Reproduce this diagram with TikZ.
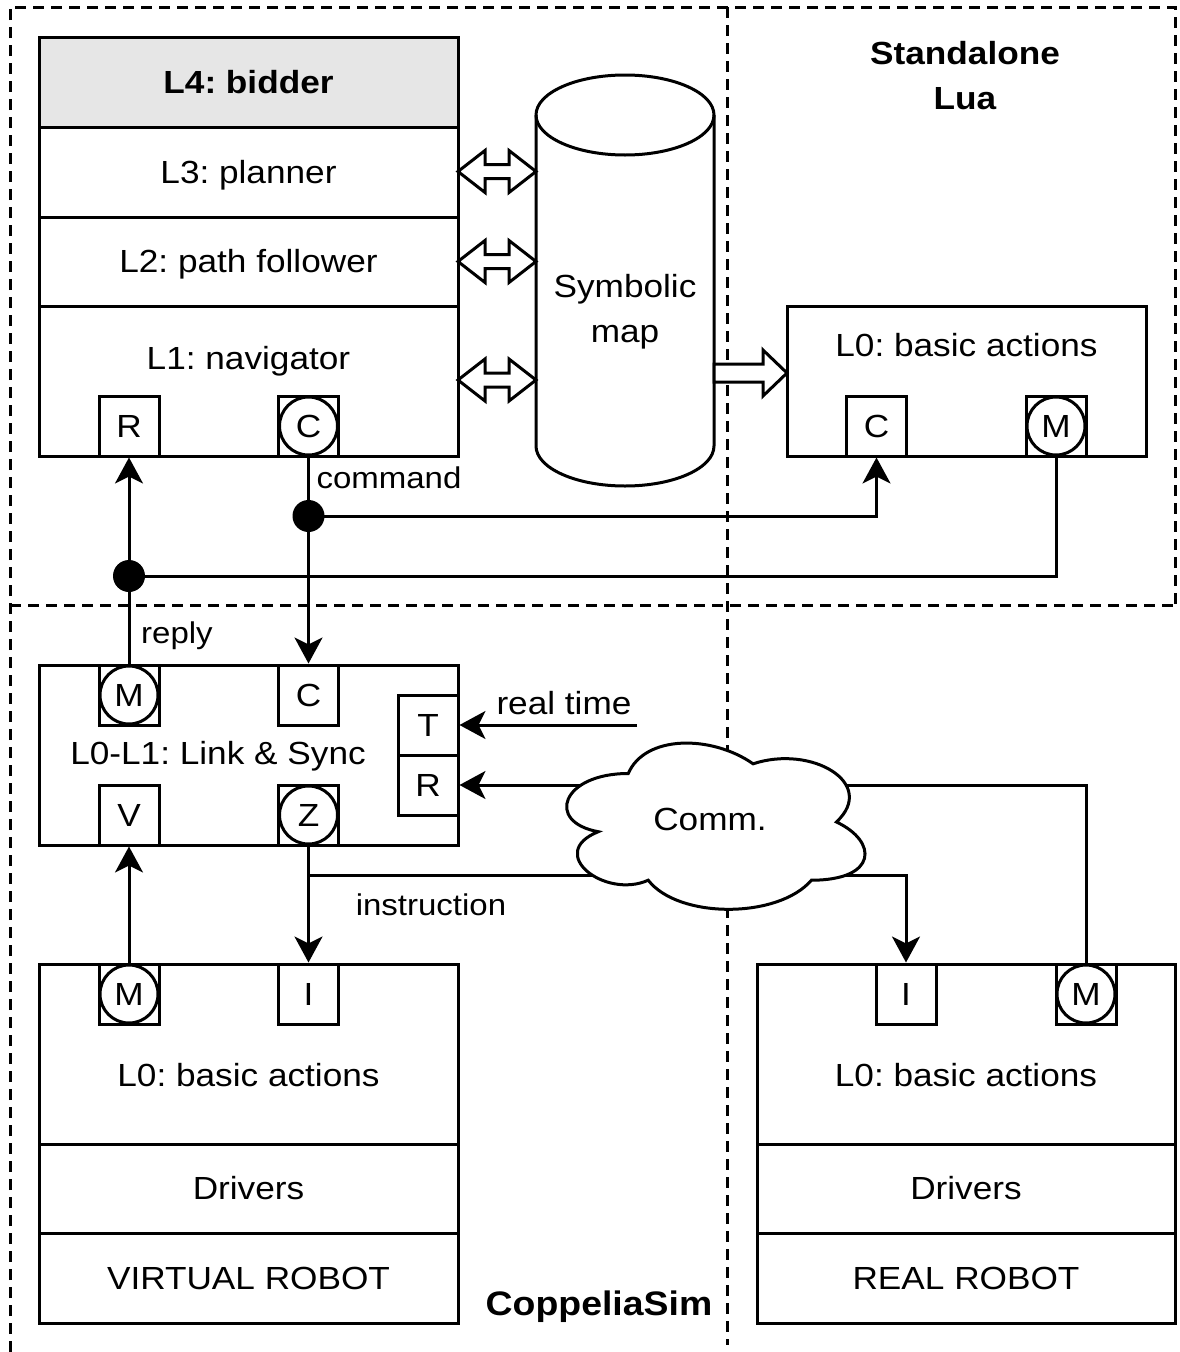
\documentclass[tikz,border=0pt]{standalone}
\usepackage{fontspec}
\setmainfont{Liberation Sans}[FakeStretch=1.1]
\usetikzlibrary{arrows.meta}
\newcommand\fmain{\fontsize{32}{40}\selectfont}
\newcommand\flabel{\fontsize{30}{36}\selectfont}
\newcommand\ftitle{\fontsize{32}{40}\selectfont\bfseries}
\newcommand\fbigtitle{\fontsize{34}{40}\selectfont\bfseries}
\definecolor{headgray}{HTML}{E6E6E6}
\frenchspacing

\begin{document}
\begin{tikzpicture}[x=1pt,y=-1pt,line width=3pt,
  txt/.style={font=\fmain, inner sep=0pt, text height=22.9pt, text depth=0pt},
  lbl/.style={font=\flabel, inner sep=0pt, text height=21.5pt, text depth=0pt},
  ttl/.style={font=\ftitle, inner sep=0pt, text height=22.9pt, text depth=0pt},
  layer/.style={draw, minimum width=419pt, inner sep=0pt, txt},
  port/.style={draw, fill=white, minimum size=60pt, inner sep=0pt, txt},
  ring/.style={draw, circle, fill=white, minimum size=58pt, inner sep=0pt, txt},
  junction/.style={circle, fill=black, minimum size=32pt, inner sep=0pt},
  arr/.style={-{Stealth[length=26pt,width=28pt,inset=7pt]}},
  frame/.style={dash pattern=on 11pt off 7pt, line width=3pt},
  blockarrow/.style={draw, fill=white, line join=miter}
]
\useasboundingbox (0,0) rectangle (1179,1352);

% ---------- dashed deployment frames ----------
\draw[frame] (10,1352) -- (10,7) -- (1175,7) -- (1175,605);
\draw[frame] (10,605) -- (1175,605);
\draw[frame] (727,7) -- (727,1345);

% ---------- upper stack L4..L1 ----------
\node[layer, fill=headgray, minimum height=90pt, font=\ftitle] (l4) at (248.5,82) {L4: bidder};
\node[layer, minimum height=90pt] (l3) at (248.5,172) {L3: planner};
\node[layer, minimum height=89pt] (l2) at (248.5,261.5) {L2: path follower};
\node[layer, minimum height=150pt] (l1) at (248.5,381) {};
\node[txt] (l1t) at (248.5,358) {L1: navigator};

% ---------- Link & Sync ----------
\node[layer, minimum height=180pt] (ls) at (248.5,755) {};
\node[txt] (lst) at (218,753.3) {L0-L1: Link \& Sync};

% ---------- standalone L0 ----------
\node[draw, minimum width=359pt, minimum height=150pt, inner sep=0pt] (sa) at (966.5,381) {};
\node[txt] (sat) at (966.5,345.5) {L0: basic actions};

% ---------- virtual robot stack ----------
\node[layer, minimum height=180pt] (v0) at (248.5,1054) {};
\node[txt] (v0t) at (248.5,1075.5) {L0: basic actions};
\node[layer, minimum height=89pt] (vd) at (248.5,1188.5) {Drivers};
\node[layer, minimum height=90pt] (vr) at (248.5,1278) {VIRTUAL ROBOT};

% ---------- real robot stack ----------
\node[layer, minimum width=418pt, minimum height=180pt] (r0) at (966,1054) {};
\node[txt] (r0t) at (966,1075.5) {L0: basic actions};
\node[layer, minimum width=418pt, minimum height=89pt] (rd) at (966,1188.5) {Drivers};
\node[layer, minimum width=418pt, minimum height=90pt] (rr) at (966,1278) {REAL ROBOT};

% ---------- connectors ----------
\coordinate (jCpos) at (308.5,516);
\coordinate (jRpos) at (129,576);
\coordinate (rt) at (637,725);
\coordinate (jI) at (308.5,875);

% ports (squares first, rings on top where needed)
\node[port] (nR) at (129,426) {R};
\node[port] (nC) at (308.5,426) {};
\node[ring] (nCc) at (nC) {C};
\node[port] (sC) at (876.5,426) {C};
\node[port] (sM) at (1056,426) {};
\node[ring] (sMc) at (sM) {M};
\node[port] (lM) at (129,695) {};
\node[ring] (lMc) at (lM) {M};
\node[port] (lC) at (308.5,695) {C};
\node[port] (lV) at (129,815) {V};
\node[port] (lZ) at (308.5,815) {};
\node[ring] (lZc) at (lZ) {Z};
\node[port] (lT) at (428,725) {T};
\node[port] (lR) at (428,785) {R};
\node[port] (vM) at (129,994) {};
\node[ring] (vMc) at (vM) {M};
\node[port] (vI) at (308.5,994) {I};
\node[port] (rI) at (906,994) {I};
\node[port] (rM) at (1086,994) {};
\node[ring] (rMc) at (rM) {M};

% command / reply buses
\draw[arr] (nC.south) -- (lC.north);
\draw[arr] (jCpos) -| (sC.south);
\draw[arr] (lM.north) -- (nR.south);
\draw (sM.south) |- (jRpos);
\node[junction] (jC) at (jCpos) {};
\node[junction] (jR) at (jRpos) {};

% timing and measurement into Link & Sync
\draw[arr] (rt) -- (lT.east);
\draw[arr] (rM.north) |- (lR.east);

% instruction bus
\draw[arr] (lZ.south) -- (vI.north);
\draw[arr] (jI) -| (rI.north);
\draw[arr] (vM.north) -- (lV.south);

% ---------- communication cloud ----------
\draw[fill=white] (628.25,773.5)
  .. controls (561.65,773.5) and (545,822) .. (598.28,831.7)
  .. controls (545,853.04) and (604.94,899.6) .. (648.23,880.2)
  .. controls (678.2,919) and (778.1,919) .. (811.4,880.2)
  .. controls (878,880.2) and (878,841.4) .. (836.4,822)
  .. controls (878,783.2) and (811.4,744.4) .. (753.1,763.8)
  .. controls (711.5,734.7) and (644.9,734.7) .. (628.25,773.5) -- cycle;
\node[txt] (comm) at (710,819) {Comm.};

% ---------- symbolic map cylinder ----------
\draw[fill=white] (536,115) -- (536,446)
  arc[start angle=180, end angle=360, x radius=89pt, y radius=40pt]
  -- (714,115)
  arc[start angle=0, end angle=180, x radius=89pt, y radius=40pt] -- cycle;
\draw (536,115) arc[start angle=180, end angle=360, x radius=89pt, y radius=40pt];
\node[txt] (sym1) at (625,286.5) {Symbolic};
\node[txt] (sym2) at (625,331.5) {map};

% ---------- block arrows between layers and map ----------
\foreach \c in {171.5,261.5,380} {
  \draw[blockarrow] (458,\c) -- (485,\c-21) -- (485,\c-7) -- (509,\c-7) -- (509,\c-21)
    -- (536,\c) -- (509,\c+21) -- (509,\c+7) -- (485,\c+7) -- (485,\c+21) -- cycle;
}
\draw[blockarrow] (714,364) -- (763,364) -- (763,350) -- (787,373) -- (763,396)
  -- (763,382) -- (714,382) -- cycle;

% ---------- labels ----------
\node[lbl] (cmd) at (389,478) {command};
\node[lbl] (rep) at (177,633) {reply};
\node[txt] (rtl) at (564,703.5) {real time};
\node[lbl] (ins) at (431,905) {instruction};
\node[ttl] (lua1) at (965,53) {Standalone};
\node[ttl] (lua2) at (965,98) {Lua};
\node[font=\fbigtitle, inner sep=0pt, text height=24.3pt, text depth=0pt] (cop) at (599,1303) {CoppeliaSim};
\end{tikzpicture}
\end{document}
